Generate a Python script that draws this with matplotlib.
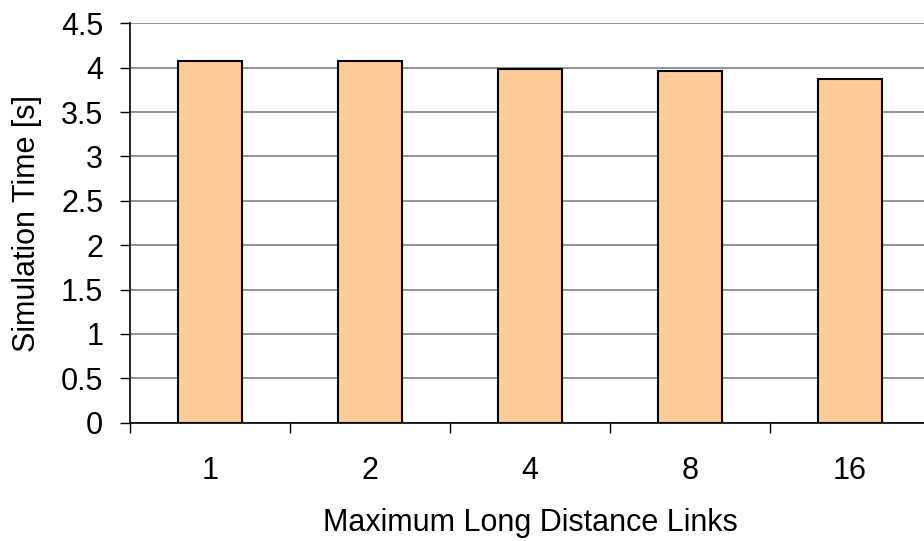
import matplotlib
matplotlib.use("Agg")
import matplotlib.pyplot as plt
import numpy as np

plt.rcParams['font.family'] = ['Liberation Sans', 'DejaVu Sans']

categories = ["1", "2", "4", "8", "16"]
sim_time = [4.07, 4.07, 3.98, 3.96, 3.87]
y_ticks = [0, 0.5, 1, 1.5, 2, 2.5, 3, 3.5, 4, 4.5]
y_tick_labels = ["0", "0.5", "1", "1.5", "2", "2.5", "3", "3.5", "4", "4.5"]

W, H = 924, 541
FS = 22
fig = plt.figure(figsize=(W / 100, H / 100), dpi=100)
left, right, top, bottom = 130, 930, 23.3, 422.7
ax = fig.add_axes([left / W, (H - bottom) / H, (right - left) / W, (bottom - top) / H])

x = np.arange(len(categories))
ax.bar(x, sim_time, width=0.4, color="#FFCC99", edgecolor="black", linewidth=1.5, zorder=3)

ax.set_xlim(-0.5, len(categories) - 0.5)
ax.set_ylim(0, 4.5)

ax.set_yticks(y_ticks)
ax.set_yticklabels(y_tick_labels)
ax.yaxis.grid(True, color="#808080", linewidth=1.2, zorder=0)

# category boundaries carry the tick marks; labels sit at the centres
ax.set_xticks(np.arange(-0.5, len(categories) - 0.5, 1.0))
ax.set_xticklabels([])
ax.set_xticks(x, minor=True)
ax.set_xticklabels(categories, minor=True)
ax.tick_params(axis="x", which="major", direction="out", length=7.2, width=1, color="black")
ax.tick_params(axis="x", which="minor", length=0, pad=24, labelsize=FS)
ax.tick_params(axis="y", direction="out", length=7.2, width=1, color="black", pad=12, labelsize=FS)

for s in ["top", "right"]:
    ax.spines[s].set_visible(False)
for s in ["left", "bottom"]:
    ax.spines[s].set_color("black")
    ax.spines[s].set_linewidth(1.2)

ax.set_xlabel("Maximum Long Distance Links", fontsize=FS, labelpad=16)
ax.set_ylabel("Simulation Time [s]", fontsize=FS, labelpad=14)

fig.savefig("out.png", dpi=100)
